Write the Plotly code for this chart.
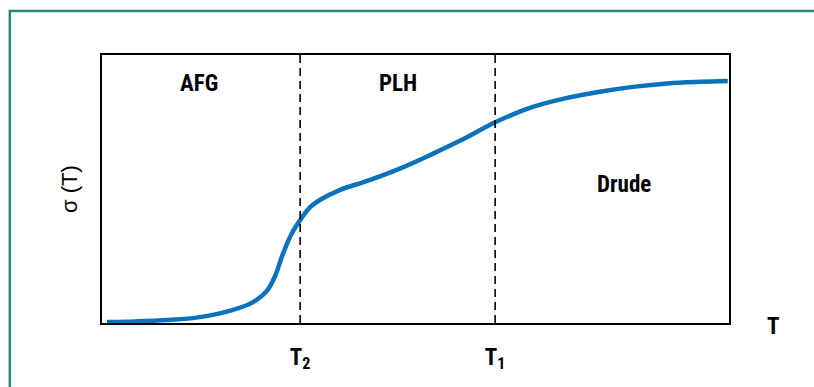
import plotly.graph_objects as go

# Curve sigma(T), arbitrary units (T: 0-100, sigma: 0-100)
t_vals = [0.8, 5.3, 10.4, 15.6, 20.9, 24.1, 26.3, 27.6, 28.9, 30.3, 31.6, 33.2, 34.8,
          38.0, 42.3, 47.5, 52.8, 58.2, 62.7, 68.7, 74.2, 79.4, 84.7, 90.1, 95.4, 99.8]
sigma_vals = [0.4, 0.6, 1.1, 2.2, 4.9, 7.8, 12.0, 17.5, 26.1, 33.6, 38.4, 43.2, 46.0,
              49.7, 53.0, 57.6, 63.2, 69.3, 74.9, 80.6, 84.0, 86.3, 88.1, 89.4, 90.0, 90.3]

# Crossover temperatures
cross_pos = [31.6, 62.7]
cross_labels = ["<b>T<sub>2</sub></b>", "<b>T<sub>1</sub></b>"]

# Regime labels
regime_names = ["AFG", "PLH", "Drude"]
regime_x = [15.4, 47.2, 83.3]
regime_y = [89.5, 89.5, 51.5]

FONT = "Roboto Condensed, Liberation Sans Narrow, Roboto, sans-serif"

fig = go.Figure()
fig.add_trace(go.Scatter(x=t_vals, y=sigma_vals, mode="lines",
                         line=dict(color="#0872bd", width=4.5, shape="spline", smoothing=1.0),
                         hoverinfo="skip", showlegend=False))

for xp in cross_pos:
    fig.add_shape(type="line", x0=xp, x1=xp, y0=0, y1=100, xref="x", yref="y",
                  line=dict(color="black", width=1.6, dash="8px,5px"))

for name, xx, yy in zip(regime_names, regime_x, regime_y):
    fig.add_annotation(x=xx, y=yy, text="<b>" + name + "</b>", showarrow=False,
                       font=dict(family=FONT, size=23, color="black"))

# axis title "T"
fig.add_annotation(x=1.07, y=-0.0, xref="paper", yref="paper", text="<b>T</b>",
                   showarrow=False, font=dict(family=FONT, size=23, color="black"),
                   xanchor="center", yanchor="middle", yshift=-3)

# outer teal frame
fig.add_shape(type="rect", xref="paper", yref="paper", x0=-0.147, x1=1.5, y0=-0.5, y1=1.164,
              line=dict(color="#23887a", width=2.5), fillcolor="rgba(0,0,0,0)", layer="below")

fig.update_layout(
    width=814, height=387,
    margin=dict(l=102, r=85, t=55, b=64),
    paper_bgcolor="white", plot_bgcolor="white",
    xaxis=dict(range=[0, 100], showgrid=False, zeroline=False, showline=True, mirror=True,
               linecolor="black", linewidth=2, ticks="", tickvals=cross_pos, ticktext=cross_labels,
               tickfont=dict(family=FONT, size=23, color="black"), ticklabelstandoff=12),
    yaxis=dict(range=[0, 100], showgrid=False, zeroline=False, showline=True, mirror=True,
               linecolor="black", linewidth=2, ticks="", showticklabels=False,
               title=dict(text="σ (T)", font=dict(family="Liberation Sans, Arial, sans-serif", size=22, color="black"),
                          standoff=16)),
)

fig.write_html("out.html", post_script="document.body.style.margin='0px';",
               config={"displayModeBar": False})
